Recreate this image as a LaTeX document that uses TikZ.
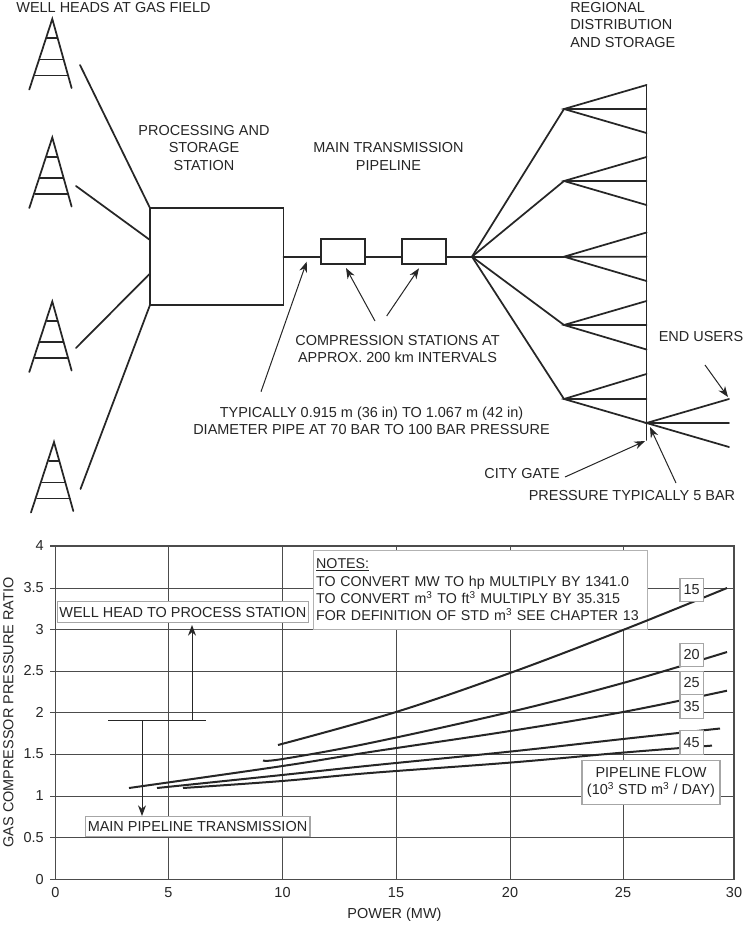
\documentclass[tikz,border=0pt]{standalone}
\usepackage{fontspec}
\setmainfont{Liberation Sans}
\usetikzlibrary{arrows.meta}
\colorlet{ink}{black!85}
\newcommand{\sq}{\textsuperscript{3}}
\newcommand{\txt}{\fontsize{10.85pt}{13.1pt}\selectfont}
\tikzset{
 pipe/.style={ink,line width=1.3pt,line cap=round},
 lead/.style={ink,line width=0.75pt,-{Stealth[length=8pt,width=6pt]}},
 grid/.style={black!70,line width=0.75pt},
 curve/.style={ink,line width=1.5pt},
 lab/.style={font=\txt,text=ink,align=center,inner sep=0pt},
 tick/.style={font=\txt,text=ink,inner sep=0pt},
 wbox/.style={draw=black!35,line width=0.8pt,fill=white,inner sep=0pt,font=\txt,text=ink,align=center},
 cbox/.style={draw=ink,line width=1.3pt,minimum width=33.2pt,minimum height=18.7pt,inner sep=0pt}
}
\newcommand{\tower}[2]{%
 \draw[pipe] (#1-23,#2+70.5) -- (#1,#2) -- (#1+19.3,#2+69);
 \draw[pipe] (#1-5,#2+19.3) -- (#1+5,#2+19.3) (#1-12,#2+40.6) -- (#1+11,#2+40.6) (#1-17,#2+56.5) -- (#1+16,#2+56.5);}
\begin{document}
\begin{tikzpicture}[x=0.75pt,y=-0.75pt]
\useasboundingbox (0,0) rectangle (743,925);
\fill[white] (0,0) rectangle (743,925);
% towers
\tower{52.3}{19}\tower{52.3}{137.5}\tower{52.3}{301.5}\tower{54}{442}
\node[lab] (tWells) at (113.5,8) {WELL HEADS AT GAS FIELD};
\node[lab] (tProc) at (204,148) {PROCESSING AND\\STORAGE\\STATION};
\node[lab] (tMain) at (388.5,156.5) {MAIN TRANSMISSION\\PIPELINE};
\node[lab,align=left,anchor=north west] (tReg) at (570,2) {REGIONAL\\DISTRIBUTION\\AND STORAGE};
\node[lab] (tComp) at (397.5,349) {COMPRESSION STATIONS AT\\APPROX. 200 km INTERVALS};
\node[lab] (tDia) at (371.5,421) {TYPICALLY 0.915 m (36 in) TO 1.067 m (42 in)\\DIAMETER PIPE AT 70 BAR TO 100 BAR PRESSURE};
\node[lab] (tEnd) at (701,337) {END USERS};
\node[lab] (tCity) at (522,474) {CITY GATE};
\node[lab] (tPress) at (632,496) {PRESSURE TYPICALLY 5 BAR};
% station
\draw[pipe,line cap=butt] (150,208) rectangle (283.5,305);
\coordinate (sA) at (150,208);\coordinate (sB) at (150,240);\coordinate (sC) at (150,273.5);\coordinate (sD) at (150,305);
\draw[pipe] (80,65) -- (sA) (76,186) -- (sB) (76,348) -- (sC) (80.5,489) -- (sD);
% pipeline
\node[cbox] (c1) at (342.8,251.8) {};
\node[cbox] (c2) at (424.2,251.8) {};
\coordinate (hub) at (472,256.7);
\draw[pipe] (283.5,256.7) -- (c1.west |- 0,256.7) (c1.east |- 0,256.7) -- (c2.west |- 0,256.7) (c2.east |- 0,256.7) -- (hub);
% distribution
\foreach \n/\y in {a/109,b/181,c/256.7,d/325,e/399}{\coordinate (f\n) at (564,\y);\draw[pipe] (hub) -- (f\n);}
\draw[pipe] (646.5,85) -- (646.5,440);
\draw[pipe] (646.5,85) -- (fa) -- (646.5,133) (fa) -- (646.5,109);
\draw[pipe] (646.5,157) -- (fb) -- (646.5,205) (fb) -- (646.5,181);
\draw[pipe] (646.5,232.5) -- (fc) -- (646.5,281) (fc) -- (646.5,256.7);
\draw[pipe] (646.5,301) -- (fd) -- (646.5,349.5) (fd) -- (646.5,325);
\draw[pipe] (646.5,374) -- (fe) -- (646.5,423) (fe) -- (646.5,399);
\coordinate (gate) at (646.5,423);
\draw[pipe] (729,399) -- (gate) -- (729,447) (gate) -- (729,423);
% leaders
\draw[lead] (261,391.7) -- (306.7,261.7);
\draw[lead] (375,321) -- (346,268);
\draw[lead] (386.7,316) -- (419,268.3);
\draw[lead] (705,365) -- (728,397);
\draw[lead] (565,477) -- (645,441);
\draw[lead] (676,483) -- (650,427);
% chart
\foreach \x in {168.5,282.5,396,510,623}{\draw[grid] (\x,546) -- (\x,879.3);}
\foreach \y in {588,629.5,671,712.5,754,796,837.5}{\draw[grid] (50,\y) -- (734,\y);}
\draw[black!70,line width=1pt] (50,546) -- (734,546) -- (734,879.3) -- (50,879.3);
\draw[black!70,line width=1pt] (55.3,546) -- (55.3,879.3);
\foreach \x/\l in {55.3/0,168.5/5,282.5/10,396/15,510/20,623/25,734/30}{\node[tick] at (\x,893) {\l};}
\foreach \y/\l in {546/4,588/3.5,629.5/3,671/2.5,712.5/2,754/1.5,796/1,837.5/0.5,879.3/0}{\node[tick,anchor=east] at (44,\y) {\l};}
\node[lab] (xl) at (394.5,915) {POWER (MW)};
\node[lab,rotate=90] (yl) at (8.5,712.5) {GAS COMPRESSOR PRESSURE RATIO};
% notes
\node[wbox,draw=black!30,minimum width=250pt,minimum height=59pt,anchor=north west,align=left,text width=246.5pt,font=\fontsize{10.68pt}{13.1pt}\selectfont] (notes) at (313.3,550) {\underline{NOTES:}\\TO CONVERT MW TO hp MULTIPLY BY 1341.0\\TO CONVERT m\sq{} TO ft\sq{} MULTIPLY BY 35.315\\FOR DEFINITION OF STD m\sq{} SEE CHAPTER 13};
\node[wbox,minimum width=188pt,minimum height=15.7pt] (well) at (182.8,612.2) {WELL HEAD TO PROCESS STATION};
\node[wbox,minimum width=168.7pt,minimum height=15pt] (mainp) at (197.5,826.7) {MAIN PIPELINE TRANSMISSION};
% curves
\draw[curve] plot[smooth,tension=.6] coordinates {(278,745) (396,712) (510,673) (623,630) (727,588)};
\draw[curve] plot[smooth,tension=.6] coordinates {(263,760.5) (282.5,759) (370,743) (510,712) (623,683) (727,652)};
\draw[curve] plot[smooth,tension=.6] coordinates {(129,788) (282.5,766) (370,752) (510,731) (623,712) (727,690.7)};
\draw[curve] plot[smooth,tension=.6] coordinates {(157,788) (282,775) (370,765.6) (510,751.6) (623,739) (720,728.5)};
\draw[curve] plot[smooth,tension=.6] coordinates {(183,788) (282,781) (370,773) (510,762.6) (623,752.6) (712,745.6)};
% T bar
\coordinate (tL) at (108,720.7);\coordinate (tR) at (205.5,720.7);
\draw[ink,line width=0.8pt] (tL) -- (tR);
\coordinate (tU) at (192,720.7);\coordinate (tD) at (142,720.7);
\draw[lead] (tU) -- (192,625);
\draw[lead] (tD) -- (142,816);
% labels
\foreach \n/\y/\t in {n25/683/25,n15/589.8/15,n20/654.8/20,n35/706.5/35,n45/742.5/45}{\node[wbox,minimum width=17.6pt,minimum height=17.6pt] (\n) at (691.7,\y) {\t};}
\node[wbox,minimum width=103.5pt,minimum height=32.7pt] (flow) at (651,782.5) {PIPELINE FLOW\\(10\sq{} STD m\sq{} / DAY)};
\end{tikzpicture}
\end{document}
